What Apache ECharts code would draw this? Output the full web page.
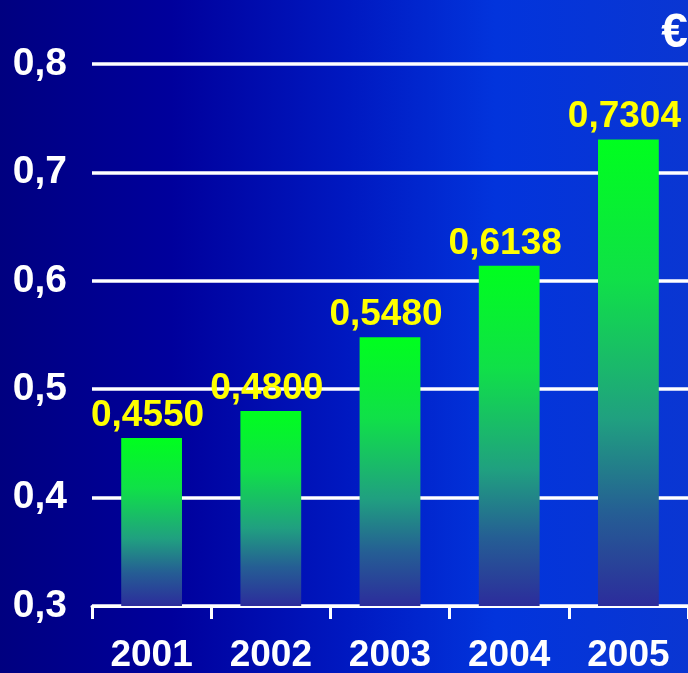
<!DOCTYPE html>
<html>
<head>
<meta charset="utf-8">
<script src="https://cdn.jsdelivr.net/npm/echarts@6/dist/echarts.min.js"></script>
<style>
  html, body { margin: 0; padding: 0; }
  #chart { width: 688px; height: 673px; }
</style>
</head>
<body>
<div id="chart"></div>
<script>
const years = ["2001", "2002", "2003", "2004", "2005"];
const prices = [0.4550, 0.4800, 0.5480, 0.6138, 0.7304];
const yTicks = { min: 0.3, max: 0.8, step: 0.1 };

const font = "'Liberation Sans', Arial, sans-serif";
const chart = echarts.init(document.getElementById("chart"));

chart.setOption({
  backgroundColor: new echarts.graphic.LinearGradient(0, 0, 1, 0, [
    { offset: 0, color: "#000080" },
    { offset: 0.25, color: "#00009c" },
    { offset: 0.5, color: "#0018c0" },
    { offset: 0.72, color: "#0234dc" },
    { offset: 1, color: "#0a36d2" }
  ]),
  animation: false,
  graphic: [
    {
      type: "text",
      right: 0,
      top: 10,
      style: {
        text: "€",
        fill: "#ffffff",
        font: "bold 48px " + font
      }
    }
  ],
  grid: { left: 92, right: 0, top: 64, bottom: 67, outerBoundsMode: "none", containLabel: false },
  xAxis: {
    type: "category",
    data: years,
    axisLine: { lineStyle: { color: "#ffffff", width: 3 } },
    axisTick: { show: true, length: 13, lineStyle: { color: "#ffffff", width: 3 } },
    axisLabel: {
      color: "#ffffff",
      fontFamily: font,
      fontWeight: "bold",
      fontSize: 37,
      margin: 31
    }
  },
  yAxis: {
    type: "value",
    min: yTicks.min,
    max: yTicks.max,
    interval: yTicks.step,
    axisLine: { show: false },
    axisTick: { show: false },
    splitLine: { lineStyle: { color: "#ffffff", width: 3.5 } },
    axisLabel: {
      color: "#ffffff",
      fontFamily: font,
      fontWeight: "bold",
      fontSize: 39,
      margin: 25,
      formatter: function (v) {
        return v.toFixed(1).replace(".", ",");
      }
    }
  },
  series: [
    {
      type: "bar",
      data: prices,
      barWidth: "51%",
      itemStyle: {
        color: new echarts.graphic.LinearGradient(0, 0, 0, 1, [
          { offset: 0, color: "#00ff1e" },
          { offset: 0.3, color: "#10e048" },
          { offset: 0.6, color: "#20a080" },
          { offset: 0.8, color: "#255e94" },
          { offset: 1, color: "#2c2c9c" }
        ])
      },
      label: {
        show: true,
        position: "top",
        distance: 4,
        offset: [-4, 0],
        color: "#ffff00",
        fontFamily: font,
        fontWeight: "bold",
        fontSize: 37,
        textShadowColor: "#000050",
        textShadowBlur: 0,
        textShadowOffsetX: 2,
        textShadowOffsetY: 2,
        formatter: function (p) {
          return p.value.toFixed(4).replace(".", ",");
        }
      }
    }
  ]
});

window.addEventListener("resize", function () {
  chart.resize();
});
</script>
</body>
</html>
